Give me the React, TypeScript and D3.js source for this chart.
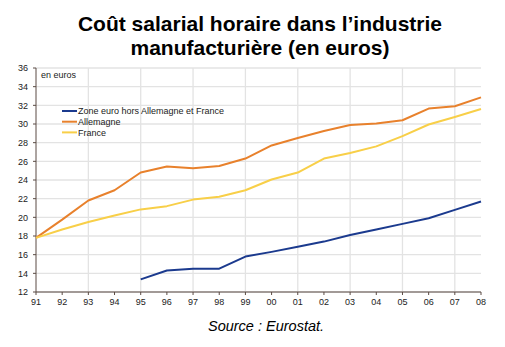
import React from "react";
import * as d3 from "d3";

const years = ["91","92","93","94","95","96","97","98","99","00","01","02","03","04","05","06","07","08"];
const zone: (number | null)[] = [null,null,null,null,13.35,14.3,14.5,14.5,15.8,16.3,16.85,17.4,18.1,18.7,19.3,19.9,20.8,21.7];
const allemagne = [17.8,19.75,21.8,22.9,24.8,25.45,25.25,25.5,26.3,27.7,28.5,29.25,29.9,30.05,30.4,31.65,31.9,32.85];
const france = [17.8,18.7,19.5,20.2,20.85,21.2,21.9,22.2,22.9,24.05,24.8,26.3,26.9,27.6,28.7,29.95,30.75,31.6];
const yTicks = [12,14,16,18,20,22,24,26,28,30,32,34,36];
const seriesNames = ["Zone euro hors Allemagne et France", "Allemagne", "France"];
const colors = ["#1b3a8e", "#e8812c", "#f8cf48"];

export default function App() {
  const W = 505, H = 347;
  const left = 36, right = 481, top = 68, bottom = 292;
  const x = d3.scaleLinear().domain([0, years.length - 1]).range([left, right]);
  const y = d3.scaleLinear().domain([12, 36]).range([bottom, top]);
  const line = d3.line<number | null>()
    .defined((d) => d != null)
    .x((_, i) => x(i))
    .y((d) => y(d as number));
  const allSeries = [zone, allemagne, france];
  const font = "Arial, 'Liberation Sans', Helvetica, sans-serif";
  return (
    <svg width={W} height={H} style={{ position: "absolute", left: 0, top: 0, background: "#fff" }} fontFamily={font}>
      <text x={260} y={31} textAnchor="middle" fontSize={21} fontWeight="bold" fill="#000">Coût salarial horaire dans l’industrie</text>
      <text x={260} y={55} textAnchor="middle" fontSize={21} fontWeight="bold" fill="#000">manufacturière (en euros)</text>
      {yTicks.map((t) => (
        <line key={"hg" + t} x1={left} x2={right} y1={y(t)} y2={y(t)} stroke="#e3e3e3" strokeWidth={1.3} />
      ))}
      {years.map((yr, i) => (i % 2 === 0 && i > 0 && i < years.length - 1) ? (
        <line key={"vg" + yr} x1={x(i)} x2={x(i)} y1={top} y2={bottom} stroke="#e3e3e3" strokeWidth={1.3} />
      ) : null)}
      <line x1={left} x2={left} y1={top} y2={bottom} stroke="#5b4b44" strokeWidth={1} />
      <line x1={left} x2={right} y1={bottom} y2={bottom} stroke="#5b4b44" strokeWidth={1} />
      {yTicks.map((t) => (
        <g key={"yt" + t}>
          <line x1={left - 3} x2={left} y1={y(t)} y2={y(t)} stroke="#5b4b44" />
          <text x={left - 8} y={y(t) + 3.2} textAnchor="end" fontSize={9} fill="#222">{t}</text>
        </g>
      ))}
      {years.map((yr, i) => (
        <g key={"xt" + yr}>
          <line x1={x(i)} x2={x(i)} y1={bottom} y2={bottom + 3} stroke="#5b4b44" />
          <text x={x(i)} y={bottom + 12.5} textAnchor="middle" fontSize={9} fill="#222">{yr}</text>
        </g>
      ))}
      <text x={41} y={77.5} fontSize={9} fill="#222">en euros</text>
      {allSeries.map((s, k) => (
        <path key={"s" + k} d={line(s) || ""} fill="none" stroke={colors[k]} strokeWidth={2} strokeLinejoin="round" />
      ))}
      {seriesNames.map((n, k) => (
        <g key={"lg" + k}>
          <line x1={62} x2={77} y1={111 + k * 10.7} y2={111 + k * 10.7} stroke={colors[k]} strokeWidth={2} />
          <text x={78} y={111 + k * 10.7 + 3.2} fontSize={9} fill="#222">{n}</text>
        </g>
      ))}
      <text x={266} y={331} textAnchor="middle" fontSize={14.5} fontStyle="italic" fill="#000">Source : Eurostat.</text>
    </svg>
  );
}
